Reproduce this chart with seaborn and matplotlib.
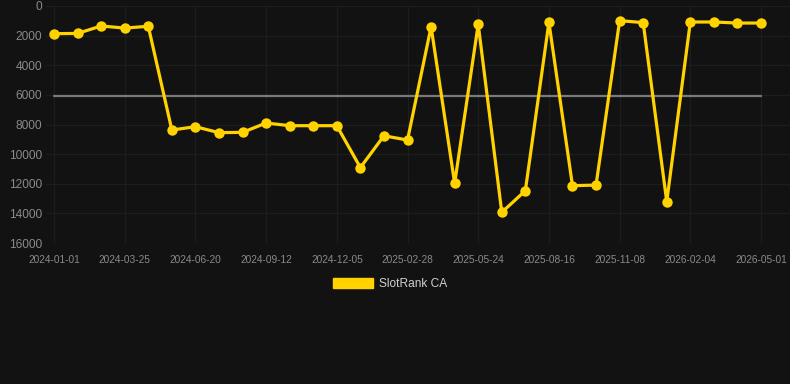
import matplotlib
matplotlib.use("Agg")
import matplotlib.pyplot as plt
from matplotlib.patches import Patch
import seaborn as sns
import pandas as pd

dates = ["2024-01-01", "2024-01-29", "2024-02-26", "2024-03-25", "2024-04-22",
         "2024-05-20", "2024-06-20", "2024-07-18", "2024-08-15", "2024-09-12",
         "2024-10-10", "2024-11-07", "2024-12-05", "2025-01-02", "2025-01-30",
         "2025-02-28", "2025-03-28", "2025-04-25", "2025-05-24", "2025-06-21",
         "2025-07-19", "2025-08-16", "2025-09-13", "2025-10-11", "2025-11-08",
         "2025-12-06", "2026-01-05", "2026-02-04", "2026-03-04", "2026-04-01",
         "2026-05-01"]
ranks = [1870, 1850, 1350, 1490, 1370, 8370, 8150, 8550, 8530, 7900,
         8080, 8080, 8080, 10910, 8760, 9050, 1400, 11970, 1240, 13930,
         12470, 1100, 12130, 12090, 990, 1120, 13210, 1080, 1080, 1150,
         1150]
avg_rank = 6100
series_name = "SlotRank CA"
y_ticks = [0, 2000, 4000, 6000, 8000, 10000, 12000, 14000, 16000]

df = pd.DataFrame({"pos": range(len(dates)), "date": dates, "rank": ranks})

sns.set_theme(style="dark")
plt.rcParams["font.family"] = ["Liberation Sans", "DejaVu Sans"]

bg = "#121212"
gold = "#FFD200"
fig = plt.figure(figsize=(7.90, 3.84), dpi=100, facecolor=bg)
ax = fig.add_axes([46 / 790, 1 - 243 / 384, 744 / 790, 237 / 384])
ax.set_facecolor(bg)

# average line
ax.plot([0, len(dates) - 1], [avg_rank, avg_rank], color="#7a7a7a", lw=1.6, zorder=2)

sns.lineplot(data=df, x="pos", y="rank", ax=ax, color=gold, lw=2.3,
             marker="o", markersize=7.5, markeredgewidth=0, zorder=3,
             solid_joinstyle="miter")

ax.set_ylim(16000, 0)
ax.set_xlim(-0.34, 31.23)
ax.set_yticks(y_ticks)
ax.set_yticklabels([str(v) for v in y_ticks], fontsize=8.6, color="#8a8a8a")
tick_idx = list(range(0, len(dates), 3))
ax.set_xticks(tick_idx)
ax.set_xticklabels([dates[i] for i in tick_idx], fontsize=7.3, color="#8a8a8a")
ax.tick_params(axis="y", length=0, pad=3)
ax.tick_params(axis="x", length=5, color="#222222", pad=3.5)
ax.grid(True, color="#1d1d1d", lw=0.9)
ax.set_xlabel("")
ax.set_ylabel("")
for s in ax.spines.values():
    s.set_visible(False)

handle = Patch(facecolor=gold, edgecolor=gold, label=series_name)
fig.legend(handles=[handle], loc="center", bbox_to_anchor=(390 / 790, 1 - 284 / 384),
           frameon=False, fontsize=8.6, labelcolor="#d0d0d0",
           handlelength=3.35, handleheight=0.93, handletextpad=0.5)

fig.savefig("out.png", dpi=100, facecolor=bg)
